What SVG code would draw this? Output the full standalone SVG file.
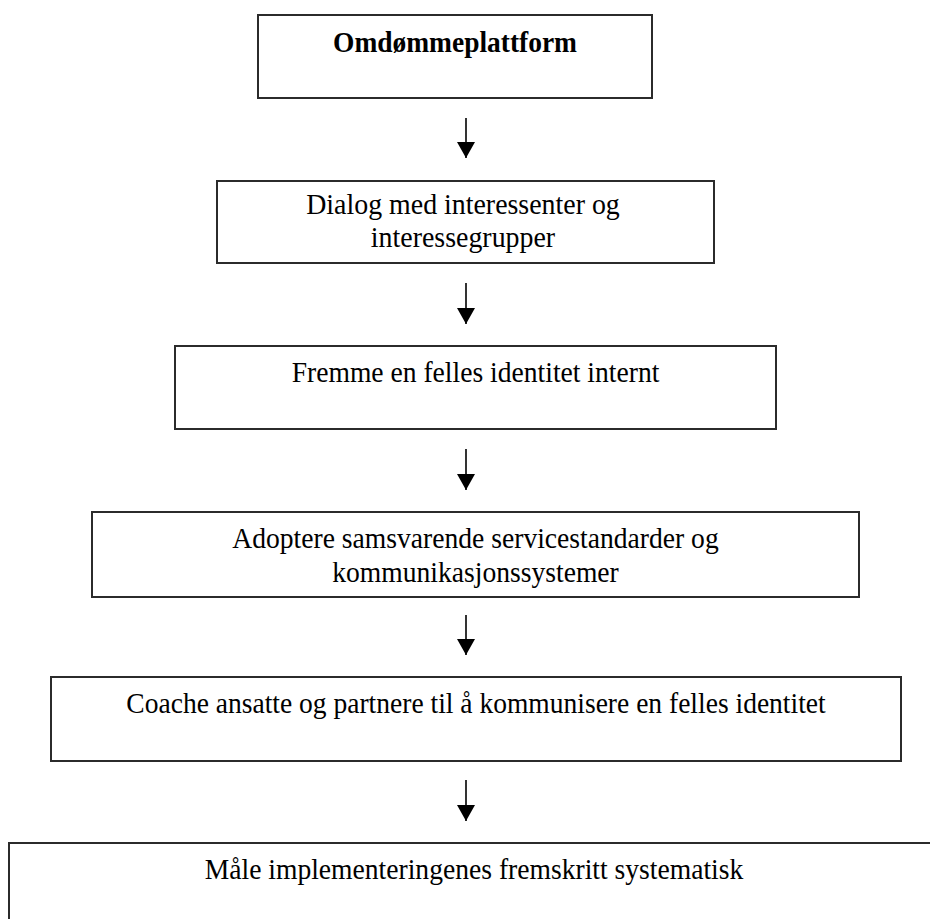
<svg xmlns="http://www.w3.org/2000/svg" width="930" height="919" viewBox="0 0 930 919">
<style>
.box{fill:#fff;stroke:#2b2b2b;stroke-width:2}
.t{font-family:"Liberation Serif","Times New Roman",serif;font-size:30px;fill:#000;text-anchor:middle}
.b{font-weight:bold}
.c{stroke:#000;stroke-width:1.6;fill:none;marker-end:url(#ah)}
</style>
<defs>
<marker id="ah" viewBox="0 0 16 18" refX="16" refY="9" markerWidth="16" markerHeight="18" markerUnits="userSpaceOnUse" orient="auto">
<path d="M0,0 L16,9 L0,18 z" fill="#000"/>
</marker>
</defs>
<rect width="930" height="919" fill="#fff"/>
<g id="n1"><rect class="box" x="258" y="15" width="394" height="83"/><text class="t b" transform="translate(455 52) scale(0.915 1)">Omdømmeplattform</text></g>
<g id="n2"><rect class="box" x="217" y="181" width="497" height="82"/><text class="t" transform="translate(463 214) scale(0.93 1)">Dialog med interessenter og</text><text class="t" transform="translate(463 247) scale(0.93 1)">interessegrupper</text></g>
<g id="n3"><rect class="box" x="175" y="346" width="601" height="83"/><text class="t" transform="translate(475.5 382) scale(0.92 1)">Fremme en felles identitet internt</text></g>
<g id="n4"><rect class="box" x="92" y="512" width="767" height="85"/><text class="t" transform="translate(475.5 548) scale(0.92 1)">Adoptere samsvarende servicestandarder og</text><text class="t" transform="translate(475.5 582) scale(0.92 1)">kommunikasjonssystemer</text></g>
<g id="n5"><rect class="box" x="51" y="677" width="850" height="84"/><text class="t" transform="translate(476 713) scale(0.918 1)">Coache ansatte og partnere til å kommunisere en felles identitet</text></g>
<g id="n6"><rect class="box" x="9" y="843" width="940" height="100"/><text class="t" transform="translate(474 879) scale(0.92 1)">Måle implementeringenes fremskritt systematisk</text></g>
<g id="connectors">
<line class="c" x1="466" y1="118" x2="466" y2="158"/>
<line class="c" x1="466" y1="283" x2="466" y2="324"/>
<line class="c" x1="466" y1="449" x2="466" y2="490"/>
<line class="c" x1="466" y1="615" x2="466" y2="655"/>
<line class="c" x1="466" y1="780" x2="466" y2="821"/>
</g>
</svg>
